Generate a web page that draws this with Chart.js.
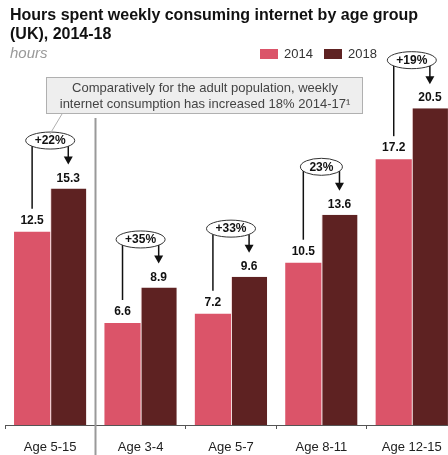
<!DOCTYPE html>
<html>
<head>
<meta charset="utf-8">
<script src="https://cdn.jsdelivr.net/npm/chart.js@4.4.1/dist/chart.umd.min.js"></script>
<style>
  html, body { margin: 0; padding: 0; background: #fff; overflow: hidden; width: 448px; height: 455px; }
  body { position: relative; font-family: 'Liberation Sans', Arial, sans-serif; }
  #wrap { position: absolute; left: 0; top: 0; width: 460px; height: 455px; }
  .title { position: absolute; left: 10px; top: 5px; font-size: 16px; font-weight: bold; line-height: 19px; color: #111; }
  .unit { position: absolute; left: 10px; top: 44px; font-size: 15px; font-style: italic; color: #999; }
  .legend { position: absolute; top: 46px; font-size: 13px; color: #333; line-height: 16px; }
  .legend span.box { display: inline-block; width: 18px; height: 10px; vertical-align: -1px; margin-right: 6px; }
</style>
</head>
<body>
<div id="wrap"><canvas id="chart"></canvas></div>
<div class="title">Hours spent weekly consuming internet by age group<br>(UK), 2014-18</div>
<div class="unit">hours</div>
<div class="legend" id="leg1" style="left:260px"></div>
<div class="legend" id="leg2" style="left:324px"></div>
<script>
// Data
const categories = ['Age 5-15', 'Age 3-4', 'Age 5-7', 'Age 8-11', 'Age 12-15'];
const hours2014 = [12.5, 6.6, 7.2, 10.5, 17.2];
const hours2018 = [15.3, 8.9, 9.6, 13.6, 20.5];
const growthLabels = ['+22%', '+35%', '+33%', '23%', '+19%'];
const seriesNames = ['2014', '2018'];

const pink = '#db5469';
const maroon = '#5e2222';
const fontFamily = "'Liberation Sans', Arial, sans-serif";

// HTML legend
document.getElementById('leg1').innerHTML = '<span class="box" style="background:' + pink + '"></span>' + seriesNames[0];
document.getElementById('leg2').innerHTML = '<span class="box" style="background:' + maroon + '"></span>' + seriesNames[1];

// Draw value labels, growth ellipses, arrows, divider and note box
const annotations = {
    id: 'annotations',
    afterDatasetsDraw(chart) {
        const ctx = chart.ctx;
        const xScale = chart.scales.x;
        const meta0 = chart.getDatasetMeta(0);
        const meta1 = chart.getDatasetMeta(1);
        ctx.save();

        // value labels
        ctx.font = 'bold 12px ' + fontFamily;
        ctx.fillStyle = '#111';
        ctx.textAlign = 'center';
        ctx.textBaseline = 'middle';
        meta0.data.forEach((bar, i) => ctx.fillText(hours2014[i].toFixed(1), bar.x, bar.y - 11));
        meta1.data.forEach((bar, i) => ctx.fillText(hours2018[i].toFixed(1), bar.x, bar.y - 10));

        // growth ellipses
        categories.forEach((c, i) => {
            const b0 = meta0.data[i];
            const b1 = meta1.data[i];
            const cx = xScale.getPixelForValue(i);
            const cy = b1.y - 48;
            ctx.font = 'bold 12px ' + fontFamily;
            const tw = ctx.measureText(growthLabels[i]).width;
            const rx = tw / 2 + 9;
            const ry = 8.5;
            ctx.beginPath();
            ctx.ellipse(cx, cy, rx, ry, 0, 0, Math.PI * 2);
            ctx.fillStyle = '#fff';
            ctx.fill();
            ctx.lineWidth = 1;
            ctx.strokeStyle = '#333';
            ctx.stroke();
            ctx.fillStyle = '#111';
            ctx.fillText(growthLabels[i], cx, cy + 0.5);

            const edgeY = (dx) => {
                const t = Math.min(1, Math.abs(dx) / rx);
                return cy + ry * Math.sqrt(1 - t * t);
            };
            ctx.strokeStyle = '#111';
            ctx.lineWidth = 1.5;
            // line from 2014 label up to ellipse
            ctx.beginPath();
            ctx.moveTo(b0.x, edgeY(b0.x - cx));
            ctx.lineTo(b0.x, b0.y - 23);
            ctx.stroke();
            // arrow down to 2018 label
            const tipY = b1.y - 24;
            ctx.beginPath();
            ctx.moveTo(b1.x, edgeY(b1.x - cx));
            ctx.lineTo(b1.x, tipY - 6);
            ctx.stroke();
            ctx.beginPath();
            ctx.moveTo(b1.x - 4.5, tipY - 8);
            ctx.lineTo(b1.x + 4.5, tipY - 8);
            ctx.lineTo(b1.x, tipY);
            ctx.closePath();
            ctx.fillStyle = '#111';
            ctx.fill();
        });

        // divider between total and age breakdown
        const divX = Math.round((xScale.getPixelForValue(0) + xScale.getPixelForValue(1)) / 2) + 0.5;
        ctx.strokeStyle = '#999';
        ctx.lineWidth = 2;
        ctx.beginPath();
        ctx.moveTo(divX, 118);
        ctx.lineTo(divX, chart.height);
        ctx.stroke();

        // note box
        const bx = 46, by = 77, bw = 316, bh = 36;
        ctx.fillStyle = '#eeeeee';
        ctx.fillRect(bx, by, bw, bh);
        ctx.strokeStyle = '#b0b0b0';
        ctx.lineWidth = 1;
        ctx.strokeRect(bx + 0.5, by + 0.5, bw, bh);
        ctx.beginPath();
        ctx.moveTo(62, by + bh + 1);
        ctx.lineTo(50, 134);
        ctx.stroke();
        ctx.fillStyle = '#444';
        ctx.font = '13px ' + fontFamily;
        ctx.fillText('Comparatively for the adult population, weekly', bx + bw / 2 + 1, 88);
        ctx.fillText('internet consumption has increased 18% 2014-17\u00b9', bx + bw / 2 + 1, 104);

        ctx.restore();
    }
};

const ctx = document.getElementById('chart').getContext('2d');
const chart = new Chart(ctx, {
    type: 'bar',
    data: {
        labels: categories,
        datasets: [{
            label: seriesNames[0],
            data: hours2014,
            backgroundColor: pink,
            borderWidth: 0
        }, {
            label: seriesNames[1],
            data: hours2018,
            backgroundColor: maroon,
            borderColor: '#f2dada',
            borderWidth: { left: 1, right: 0, top: 0, bottom: 0 },
            borderSkipped: false
        }]
    },
    options: {
        responsive: true,
        maintainAspectRatio: false,
        animation: false,
        events: [],
        layout: { padding: { top: 85, left: 5, right: 3, bottom: 0 } },
        plugins: {
            legend: { display: false },
            tooltip: { enabled: false }
        },
        datasets: {
            bar: { categoryPercentage: 0.8, barPercentage: 1.0 }
        },
        scales: {
            x: {
                grid: { display: true, drawOnChartArea: false, tickLength: 4, color: '#555', offset: true },
                border: { display: true, color: '#555' },
                ticks: { font: { size: 13, family: fontFamily }, color: '#222', padding: 11 },
                afterFit: s => { s.height = 30; }
            },
            y: {
                display: false,
                min: 0,
                max: 22
            }
        }
    },
    plugins: [annotations]
});
</script>
</body>
</html>
